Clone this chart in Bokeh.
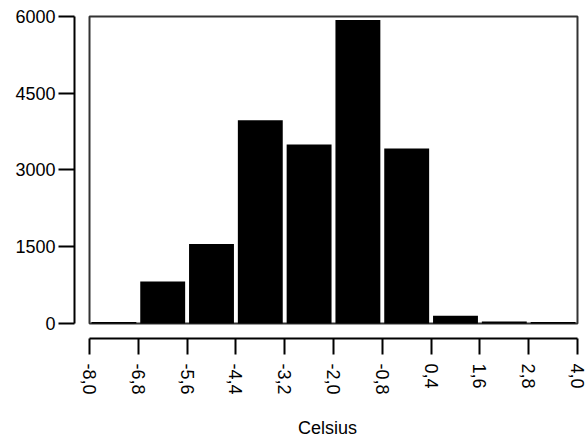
import math
import numpy as np
from bokeh.plotting import figure
from bokeh.models import FixedTicker, Range1d, BoxAnnotation, ColumnDataSource
from bokeh.embed import file_html
from bokeh.resources import INLINE

# --- data ---
bin_edges = [-8.0, -6.8, -5.6, -4.4, -3.2, -2.0, -0.8, 0.4, 1.6, 2.8, 4.0]
x_tick_labels = ["-8,0", "-6,8", "-5,6", "-4,4", "-3,2", "-2,0", "-0,8", "0,4", "1,6", "2,8", "4,0"]
counts = [30, 820, 1550, 3970, 3500, 5930, 3420, 150, 35, 30]
y_ticks = [0, 1500, 3000, 4500, 6000]
x_title = "Celsius"

edges = np.array(bin_edges)
centers = (edges[:-1] + edges[1:]) / 2
bw = (edges[1:] - edges[:-1])
src = ColumnDataSource(dict(x=centers, top=counts, w=bw * 0.92))

FONT = "Liberation Sans"

p = figure(width=588, height=440, output_backend="svg", toolbar_location=None,
           x_range=Range1d(-8.369, 4.074), y_range=Range1d(-295, 6039),
           min_border_left=74, min_border_top=14, min_border_right=8, min_border_bottom=10)
p.outline_line_color = None
p.xgrid.visible = False
p.ygrid.visible = False
p.background_fill_color = "white"
p.border_fill_color = "white"

p.vbar(x="x", top="top", bottom=0, width="w", source=src, fill_color="black", line_color=None)

box = BoxAnnotation(left=bin_edges[0], right=bin_edges[-1], bottom=y_ticks[0], top=y_ticks[-1],
                    fill_color=None, fill_alpha=0, line_color="#333333", line_alpha=1.0,
                    line_width=2, level="underlay")
p.add_layout(box)

# y axis
ya = p.yaxis[0]
ya.ticker = FixedTicker(ticks=y_ticks)
ya.bounds = (y_ticks[0], y_ticks[-1])
ya.major_tick_out = 16
ya.major_tick_in = 0
ya.minor_tick_out = 0
ya.minor_tick_in = 0
ya.major_label_standoff = 3
ya.axis_line_width = 2
ya.major_tick_line_width = 2
ya.major_label_text_font = FONT
ya.major_label_text_font_size = "18px"
ya.major_label_text_color = "black"

# x axis
xa = p.xaxis[0]
xa.ticker = FixedTicker(ticks=bin_edges)
xa.major_label_overrides = {e: l for e, l in zip(bin_edges, x_tick_labels)}
xa.bounds = (bin_edges[0], bin_edges[-1])
xa.major_tick_out = 16
xa.major_tick_in = 0
xa.minor_tick_out = 0
xa.minor_tick_in = 0
xa.major_label_standoff = 9
xa.major_label_orientation = -math.pi / 2
xa.axis_line_width = 2
xa.major_tick_line_width = 2
xa.major_label_text_font = FONT
xa.major_label_text_font_size = "18px"
xa.major_label_text_color = "black"
xa.axis_label = x_title
xa.axis_label_text_font = FONT
xa.axis_label_text_font_size = "18px"
xa.axis_label_text_font_style = "normal"
xa.axis_label_text_color = "black"
xa.axis_label_standoff = 20

open("out.html", "w").write(file_html(p, INLINE))
